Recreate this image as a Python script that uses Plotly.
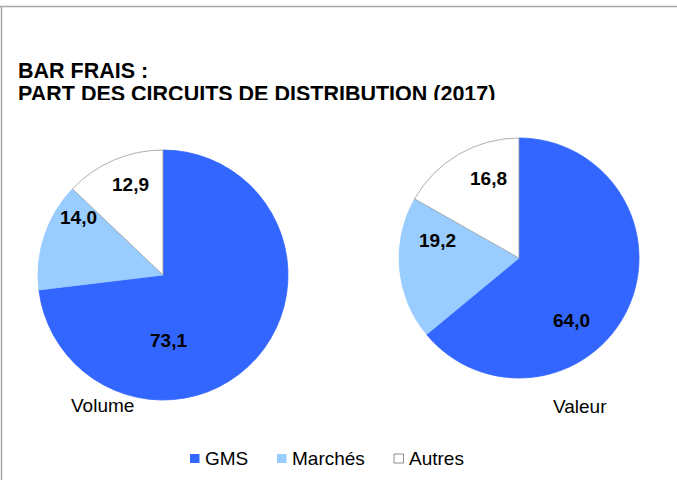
import plotly.graph_objects as go

W, H = 677, 480

# Distribution channel shares (%), 2017
circuits = ["GMS", "Marchés", "Autres"]
volume = [73.1, 14.0, 12.9]
valeur = [64.0, 19.2, 16.8]
colors = ["#3366FF", "#99CCFF", "#FFFFFF"]
edge_colors = ["#3366FF", "#99CCFF", "#9A9A9A"]

FONT = "Liberation Sans, Arial, sans-serif"


def px_x(x):
    return x / W


def px_y(y):
    return 1 - y / H


def fmt(v):
    return f"{v:.1f}".replace(".", ",")


def pie(values, name, box):
    x0, x1, y0, y1 = box
    return go.Pie(
        labels=circuits,
        values=values,
        name=name,
        textinfo="none",
        marker=dict(colors=colors, line=dict(color=edge_colors, width=0.8)),
        sort=False,
        direction="clockwise",
        rotation=0,
        showlegend=False,
        domain=dict(x=[px_x(x0), px_x(x1)], y=[px_y(y1), px_y(y0)]),
    )


# pie boxes in pixels: left, right, top, bottom
volume_box = (38, 288, 150, 400)
valeur_box = (399, 639, 138, 378)

# value-label placement, pixel offsets from each pie centre (one per slice)
volume_label_pos = [(5, 65), (-85, -58), (-33, -91)]
valeur_label_pos = [(52, 62), (-82, -18), (-31, -80)]

fig = go.Figure()
fig.add_trace(pie(volume, "Volume", volume_box))
fig.add_trace(pie(valeur, "Valeur", valeur_box))

annotations = [
    dict(text="<b>BAR FRAIS :</b>", x=px_x(16), y=px_y(71.5), xanchor="left", yanchor="middle",
         font=dict(family=FONT, size=21.5, color="black")),
    dict(text="<b>PART DES CIRCUITS DE DISTRIBUTION (2017)</b>", x=px_x(16), y=px_y(94),
         xanchor="left", yanchor="middle", font=dict(family=FONT, size=21.5, color="black")),
    # the plot area overlaps the lower edge of the title
    dict(text="", x=px_x(10), y=px_y(100), xanchor="left", yanchor="top",
         width=520, height=8, bgcolor="white", borderpad=0, borderwidth=0),
    dict(text="Volume", x=px_x(102), y=px_y(405), xanchor="center", yanchor="middle",
         font=dict(family=FONT, size=19, color="black")),
    dict(text="Valeur", x=px_x(580), y=px_y(406), xanchor="center", yanchor="middle",
         font=dict(family=FONT, size=19, color="black")),
]

# slice value labels, text taken from the data
for values, box, offsets in ((volume, volume_box, volume_label_pos),
                             (valeur, valeur_box, valeur_label_pos)):
    cx = (box[0] + box[1]) / 2
    cy = (box[2] + box[3]) / 2
    for v, (dx, dy) in zip(values, offsets):
        annotations.append(dict(
            text=f"<b>{fmt(v)}</b>", x=px_x(cx + dx), y=px_y(cy + dy),
            xanchor="center", yanchor="middle",
            font=dict(family=FONT, size=19, color="black")))

shapes = [
    # outer frame (top and left edges)
    dict(type="line", xref="paper", yref="paper", x0=0, x1=1, y0=px_y(6.5), y1=px_y(6.5),
         line=dict(color="#A8A8A8", width=1.5)),
    dict(type="line", xref="paper", yref="paper", x0=px_x(1.5), x1=px_x(1.5), y0=0, y1=px_y(6.5),
         line=dict(color="#A8A8A8", width=1.5)),
]

# legend: colour square followed by the channel name
legend_x = [190, 277, 394]
legend_y = 458.5
for name, col, edge, lx in zip(circuits, colors, edge_colors, legend_x):
    white = col == "#FFFFFF"
    shapes.append(dict(type="rect", xref="paper", yref="paper",
                       x0=px_x(lx), x1=px_x(lx + 9.5),
                       y0=px_y(legend_y + 4.5), y1=px_y(legend_y - 4.5),
                       fillcolor=col,
                       line=dict(color="#8C8C8C" if white else edge, width=1 if white else 0)))
    annotations.append(dict(text=name, x=px_x(lx + 13), y=px_y(legend_y), xanchor="left",
                            yanchor="middle", font=dict(family=FONT, size=19, color="black")))

for a in annotations:
    a.update(xref="paper", yref="paper", showarrow=False)

fig.update_layout(
    width=W, height=H,
    margin=dict(l=0, r=0, t=0, b=0),
    paper_bgcolor="white",
    plot_bgcolor="white",
    annotations=annotations,
    shapes=shapes,
)

fig.write_html("out.html")
